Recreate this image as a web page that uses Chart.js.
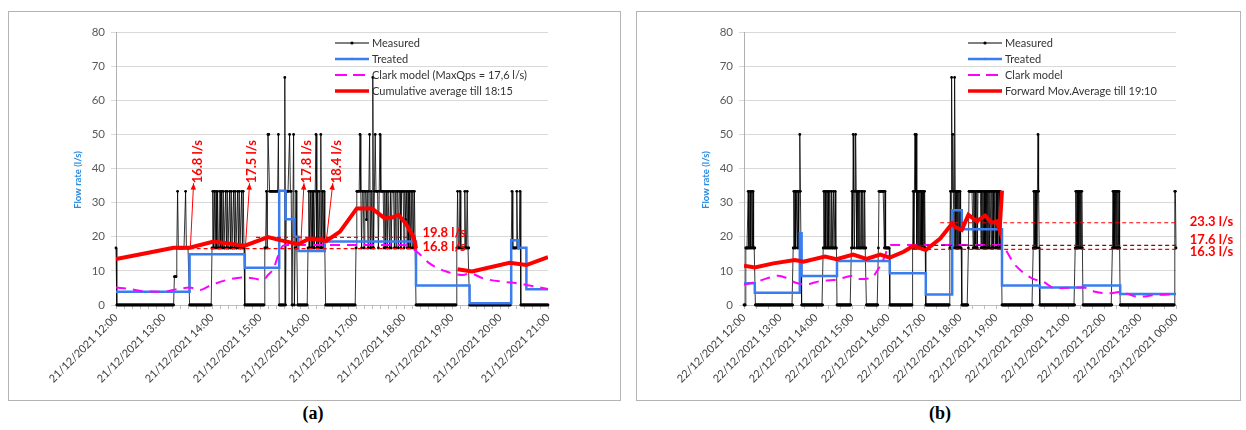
<!DOCTYPE html>
<html>
<head>
<meta charset="utf-8">
<title>Flow rate</title>
<script src="https://cdn.jsdelivr.net/npm/chart.js@4.4.1/dist/chart.umd.min.js"></script>
<style>
  html, body { margin: 0; padding: 0; background: #fff; }
  body { width: 1246px; height: 430px; position: relative; overflow: hidden; }
  .panel { position: absolute; top: 11px; height: 390px; border: 1px solid #b4b4b4; box-sizing: border-box; }
  #panelA { left: 8px; width: 613px; }
  #panelB { left: 636px; width: 605px; }
  canvas { position: absolute; left: 0; top: 0; }
  .caption { position: absolute; top: 403px; width: 60px; margin-left: -30px; text-align: center;
             font: bold 18px "Liberation Serif", serif; color: #000; }
</style>
</head>
<body>
<div class="panel" id="panelA"><canvas id="chartA" width="611" height="388"></canvas></div>
<div class="panel" id="panelB"><canvas id="chartB" width="603" height="388"></canvas></div>
<div class="caption" style="left:313px">(a)</div>
<div class="caption" style="left:940px">(b)</div>

<script>
// ---------- panel (a): 21/12/2021, minutes from 12:00 ----------
const hourLabelsA = ['21/12/2021 12:00', '21/12/2021 13:00', '21/12/2021 14:00', '21/12/2021 15:00',
  '21/12/2021 16:00', '21/12/2021 17:00', '21/12/2021 18:00', '21/12/2021 19:00',
  '21/12/2021 20:00', '21/12/2021 21:00'];

// measured flow, one value per minute (l/s)
const measuredA = [
  // 12:00
  16.7,0,0,0,0,0,0,0,0,0,
  0,0,0,0,0,0,0,0,0,0,
  0,0,0,0,0,0,0,0,0,0,
  0,0,0,0,0,0,0,0,0,0,
  0,0,0,0,0,0,0,0,0,0,
  0,0,0,0,0,0,0,0,0,0,
  // 13:00
  0,0,0,0,0,0,0,0,0,0,
  0,0,0,8.3,8.3,8.3,16.7,33.3,16.7,16.7,
  16.7,16.7,16.7,16.7,16.7,16.7,16.7,33.3,16.7,16.7,
  16.7,16.7,0,0,0,0,0,0,0,0,
  0,0,0,0,0,0,0,0,0,0,
  0,0,0,0,0,0,0,0,0,0,
  // 14:00
  16.7,33.3,16.7,33.3,16.7,33.3,16.7,33.3,16.7,16.7,
  33.3,16.7,33.3,16.7,33.3,16.7,16.7,33.3,16.7,33.3,
  16.7,16.7,33.3,16.7,33.3,16.7,16.7,33.3,16.7,33.3,
  16.7,16.7,33.3,16.7,33.3,16.7,16.7,33.3,16.7,33.3,
  16.7,0,0,0,0,0,0,0,0,0,
  0,0,0,0,0,0,0,0,0,0,
  // 15:00
  0,0,0,0,0,0,16.7,16.7,33.3,16.7,
  50,50,33.3,33.3,33.3,33.3,33.3,33.3,33.3,33.3,
  33.3,33.3,33.3,50,0,0,0,0,0,0,
  0,66.7,0,33.3,33.3,33.3,33.3,50,33.3,33.3,
  0,0,50,0,16.7,33.3,16.7,0,0,0,
  0,0,0,0,0,0,0,0,0,0,
  // 16:00
  16.7,33.3,16.7,33.3,16.7,33.3,16.7,33.3,16.7,33.3,
  50,16.7,33.3,16.7,33.3,16.7,50,16.7,33.3,16.7,
  33.3,16.7,0,0,0,0,0,0,0,0,
  0,0,0,0,0,0,0,0,0,0,
  0,0,0,0,0,0,0,0,0,0,
  0,0,0,0,0,0,0,0,0,0,
  // 17:00
  16.7,33.3,33.3,33.3,33.3,50,33.3,16.7,33.3,33.3,
  16.7,33.3,33.3,25,33.3,16.7,33.3,50,16.7,33.3,
  16.7,66.7,16.7,33.3,50,33.3,33.3,33.3,16.7,33.3,
  50,33.3,33.3,33.3,33.3,16.7,33.3,16.7,33.3,16.7,
  33.3,33.3,16.7,33.3,16.7,33.3,33.3,33.3,16.7,33.3,
  16.7,33.3,33.3,16.7,33.3,33.3,16.7,33.3,33.3,33.3,
  // 18:00
  16.7,33.3,25,33.3,16.7,33.3,16.7,33.3,16.7,33.3,
  16.7,33.3,16.7,33.3,16.7,0,0,0,0,0,
  0,0,0,0,0,0,0,0,0,0,
  0,0,0,0,0,0,0,0,0,0,
  0,0,0,0,0,0,0,0,0,0,
  0,0,0,0,0,0,0,0,0,0,
  // 19:00
  0,0,0,0,0,0,16.7,33.3,16.7,16.7,
  33.3,16.7,16.7,16.7,16.7,16.7,33.3,16.7,16.7,33.3,
  16.7,16.7,0,0,0,0,0,0,0,0,
  0,0,0,0,0,0,0,0,0,0,
  0,0,0,0,0,0,0,0,0,0,
  0,0,0,0,0,0,0,0,0,0,
  // 20:00
  0,0,0,0,0,0,0,0,0,0,
  0,0,0,0,16.7,33.3,16.7,16.7,16.7,16.7,
  16.7,33.3,16.7,16.7,16.7,33.3,0,0,0,0,
  0,0,0,0,0,0,0,0,0,0,
  0,0,0,0,0,0,0,0,0,0,
  0,0,0,0,0,0,0,0,0,0,
  // 21:00
  0
];

// treated flow: value held from each time until the next one
const treatedTimesA = [0, 92, 161, 204, 212, 223, 228, 261, 375, 442, 494, 503, 513, 540];
const treatedA = [3.9, 14.9, 10.9, 33.5, 25.1, 20.0, 15.8, 18.6, 5.7, 0.5, 19.0, 16.8, 4.6, 4.6];

const clarkTimesA = [0, 17, 34, 59, 76, 92, 105, 117, 138, 159, 172, 184, 190, 197, 203, 209, 215,
  360, 376, 392, 413, 434, 442, 459, 484, 501, 517, 540];
const clarkA = [5.1, 4.7, 4.0, 3.9, 4.6, 5.1, 4.4, 5.6, 7.3, 8.1, 7.8, 7.3, 8.8, 10.7, 14.7, 17.4, 17.6,
  17.6, 15.6, 12.2, 9.8, 8.8, 9.3, 7.8, 6.8, 6.4, 5.7, 4.7];

const cumAvgTimesA = [0, 34, 72, 92, 122, 161, 190, 205, 228, 242, 263, 280, 301, 320, 336, 345, 353,
  362, 368, 372, 375, 400, 427, 445, 492, 513, 540];
const cumAvgA = [13.5, 15.0, 16.8, 16.8, 18.6, 17.4, 19.9, 19.0, 17.8, 19.5, 18.8, 21.5, 28.3, 28.3, 25.4,
  25.6, 26.4, 24.0, 21.5, 20.0, 16.6, null, 10.5, 9.8, 12.4, 11.7, 14.0];

const refFromA = [175, 92];
const refToA = [376, 376];
const refValueA = [19.8, 16.5];
const refLabelsA = ['19.8 l/s', '16.8 l/s'];
const refLabelTimesA = [383, 383];
const refLabelValuesA = [21.1, 17.1];

const arrowLabelsA = ['16.8 l/s', '17.5 l/s', '17.8 l/s', '18.4 l/s'];
const arrowTipTimesA = [93, 162, 231, 263];
const arrowTipValuesA = [17.0, 17.8, 17.9, 19.0];
const arrowHeadTimesA = [97, 167, 235, 271];
const arrowTextTimesA = [102, 170, 238, 276];

// ---------- panel (b): 22/12/2021, minutes from 12:00 ----------
const hourLabelsB = ['22/12/2021 12:00', '22/12/2021 13:00', '22/12/2021 14:00', '22/12/2021 15:00',
  '22/12/2021 16:00', '22/12/2021 17:00', '22/12/2021 18:00', '22/12/2021 19:00',
  '22/12/2021 20:00', '22/12/2021 21:00', '22/12/2021 22:00', '22/12/2021 23:00',
  '23/12/2021 00:00'];

const measuredB = [
  // 12:00
  0,0,0,16.7,16.7,16.7,16.7,33.3,16.7,16.7,
  33.3,16.7,16.7,33.3,16.7,33.3,16.7,16.7,16.7,0,
  0,0,0,0,0,0,0,0,0,0,
  0,0,0,0,0,0,0,0,0,0,
  0,0,0,0,0,0,0,0,0,0,
  0,0,0,0,0,0,0,0,0,0,
  // 13:00
  0,0,0,0,0,0,0,0,0,0,
  0,0,0,0,0,0,0,0,0,0,
  0,0,16.7,33.3,16.7,33.3,16.7,33.3,33.3,16.7,
  33.3,16.7,33.3,50,33.3,16.7,0,0,0,0,
  0,0,0,0,0,0,0,0,0,0,
  0,0,0,0,0,0,0,0,0,0,
  // 14:00
  0,0,0,0,0,0,0,0,0,0,
  0,0,16.7,33.3,16.7,33.3,16.7,16.7,33.3,16.7,
  33.3,16.7,16.7,33.3,16.7,16.7,33.3,16.7,16.7,33.3,
  16.7,16.7,33.3,16.7,16.7,0,0,0,0,0,
  0,0,0,0,0,0,0,0,0,0,
  0,0,0,0,0,0,0,0,0,16.7,
  // 15:00
  33.3,16.7,50,33.3,16.7,33.3,50,33.3,16.7,33.3,
  16.7,33.3,16.7,33.3,16.7,16.7,33.3,16.7,33.3,16.7,
  16.7,33.3,16.7,16.7,0,0,0,0,0,0,
  0,0,0,0,0,0,0,0,0,0,
  0,0,0,0,16.7,33.3,33.3,33.3,33.3,33.3,
  33.3,33.3,33.3,33.3,16.7,33.3,16.7,16.7,16.7,16.7,
  // 16:00
  16.7,16.7,16.7,0,0,0,0,0,0,0,
  0,0,0,0,0,0,0,0,0,0,
  0,0,0,0,0,0,0,0,0,0,
  0,0,0,0,0,0,0,0,0,0,
  0,16.7,33.3,16.7,33.3,50,33.3,50,16.7,33.3,
  16.7,33.3,16.7,33.3,16.7,33.3,16.7,33.3,16.7,33.3,
  // 17:00
  16.7,33.3,16.7,0,0,0,0,0,0,0,
  0,0,0,0,0,0,0,0,0,0,
  0,0,0,0,0,0,0,0,0,0,
  0,0,0,0,0,0,0,0,0,0,
  0,0,0,16.7,33.3,16.7,66.7,33.3,50,33.3,
  16.7,66.7,33.3,16.7,33.3,16.7,33.3,16.7,33.3,16.7,
  // 18:00
  33.3,16.7,16.7,0,0,0,0,0,0,0,
  0,0,0,0,16.7,33.3,33.3,33.3,33.3,33.3,
  33.3,33.3,16.7,33.3,16.7,33.3,16.7,16.7,33.3,16.7,
  33.3,33.3,33.3,33.3,33.3,16.7,33.3,16.7,33.3,16.7,
  33.3,16.7,33.3,16.7,33.3,16.7,33.3,16.7,33.3,16.7,
  33.3,33.3,16.7,33.3,16.7,33.3,16.7,33.3,33.3,16.7,
  // 19:00
  33.3,16.7,33.3,16.7,33.3,33.3,16.7,33.3,16.7,16.7,
  0,0,0,0,0,0,0,0,0,0,
  0,0,0,0,0,0,0,0,0,0,
  0,0,0,0,0,0,0,0,0,0,
  0,0,0,0,0,0,0,0,0,0,
  0,0,0,0,0,0,0,0,0,0,
  // 20:00
  0,0,16.7,33.3,16.7,33.3,16.7,33.3,16.7,33.3,
  50,33.3,16.7,0,0,0,0,0,0,0,
  0,0,0,0,0,0,0,0,0,0,
  0,0,0,0,0,0,0,0,0,0,
  0,0,0,0,0,0,0,0,0,0,
  0,0,0,0,0,0,0,0,0,0,
  // 21:00
  0,0,0,0,0,0,0,0,0,0,
  0,0,16.7,33.3,16.7,33.3,16.7,33.3,16.7,33.3,
  16.7,33.3,16.7,33.3,16.7,0,0,0,0,0,
  0,0,0,0,0,0,0,0,0,0,
  0,0,0,0,0,0,0,0,0,0,
  0,0,0,0,0,0,0,0,0,0,
  // 22:00
  0,0,0,0,0,0,0,0,0,0,
  0,0,0,0,16.7,33.3,16.7,33.3,16.7,33.3,
  16.7,33.3,16.7,33.3,16.7,33.3,16.7,0,0,0,
  0,0,0,0,0,0,0,0,0,0,
  0,0,0,0,0,0,0,0,0,0,
  0,0,0,0,0,0,0,0,0,0,
  // 23:00
  0,0,0,0,0,0,0,0,0,0,
  0,0,0,0,0,0,0,0,0,0,
  0,0,0,0,0,0,0,0,0,0,
  0,0,0,0,0,0,0,0,0,0,
  0,0,0,0,0,0,0,0,0,0,
  0,0,0,0,0,0,0,0,33.3,33.3,
  // 00:00
  16.7
];

const treatedTimesB = [0, 18, 93, 96, 155, 243, 303, 347, 363, 430, 493, 565, 627, 720];
const treatedB = [6.4, 3.6, 21.0, 8.5, 12.9, 9.3, 3.1, 27.8, 22.2, 5.7, 5.1, 5.7, 3.2, 3.2];

const clarkTimesB = [0, 21, 38, 57, 71, 85, 104, 127, 149, 166, 179, 193, 213, 221, 232, 241, 246,
  427, 452, 480, 499, 518, 546, 566, 585, 607, 627, 657, 685, 720];
const clarkB = [5.9, 6.8, 7.8, 8.6, 7.9, 6.6, 6.1, 7.0, 7.3, 8.0, 8.5, 7.6, 8.0, 9.8, 13.2, 17.1, 17.6,
  17.6, 11.7, 7.8, 6.8, 4.9, 5.1, 5.1, 3.9, 3.4, 3.8, 2.4, 2.9, 3.1];

const fwdAvgTimesB = [0, 18, 49, 85, 99, 135, 154, 182, 204, 227, 243, 266, 282, 303, 327, 347, 352,
  363, 374, 388, 402, 413, 421, 426, 430];
const fwdAvgB = [11.5, 11.0, 12.2, 13.2, 12.7, 14.2, 13.4, 14.8, 13.5, 14.8, 13.9, 15.6, 17.3, 16.1, 19.5,
  23.9, 22.8, 22.0, 26.4, 24.6, 26.2, 24.1, 24.5, 22.0, 33.5];

const refFromB = [327, 282, 282];
const refToB = [720, 720, 720];
const refValueB = [24.1, 17.5, 16.3];
const refLabelsB = ['23.3 l/s', '17.6 l/s', '16.3 l/s'];
const refLabelTimesB = [743, 743, 743];
const refLabelValuesB = [24.4, 19.0, 15.6];

// ---------- drawing ----------
Chart.defaults.font.family = 'Lato';

const pairs = (xs, ys) => xs.map((x, i) => ({ x: x, y: ys[i] }));
const perMinute = ys => ys.map((y, i) => ({ x: i, y: y }));

const legendStyles = [
  { color: '#000000', width: 1, dot: 1.6 },
  { color: '#3a7df0', width: 2.5, dot: 1.3 },
  { color: '#ff00ff', width: 2, dash: [12, 6] },
  { color: '#ff0000', width: 3.5 }
];

function buildDatasets(p) {
  const sets = [{
    data: pairs(p.avgTimes, p.avg), borderColor: '#ff0000', borderWidth: 4,
    pointRadius: 0, spanGaps: false
  }];
  p.refFrom.forEach((t0, i) => {
    sets.push({
      data: [{ x: t0, y: p.refValue[i] }, { x: p.refTo[i], y: p.refValue[i] }],
      borderColor: p.refColors[i], borderWidth: 1.2, borderDash: [4, 3], pointRadius: 0
    });
  });
  sets.push({
    data: pairs(p.clarkTimes, p.clark), borderColor: '#ff00ff', borderWidth: 2,
    borderDash: [10, 7], pointRadius: 0, cubicInterpolationMode: 'monotone'
  });
  sets.push({
    data: pairs(p.treatedTimes, p.treated), borderColor: '#3a7df0', borderWidth: 2.5,
    stepped: true, pointRadius: 0
  });
  sets.push({
    data: perMinute(p.measured), borderColor: '#000000', borderWidth: 0.8,
    pointRadius: 1.4, pointBorderWidth: 0, pointBackgroundColor: '#000000',
    clip: { left: 2, top: 2, right: 2, bottom: 3 }
  });
  return sets;
}

function makeExtras(p) {
  return {
    id: 'extras',
    afterDraw(chart) {
      const { ctx, chartArea: area } = chart;
      const x = chart.scales.x, y = chart.scales.y;
      ctx.save();

      // axis title
      ctx.save();
      ctx.translate(area.left - 38, area.top + 148);
      ctx.rotate(-Math.PI / 2);
      ctx.font = 'bold 9.5px Lato';
      ctx.fillStyle = '#2b8be0';
      ctx.textAlign = 'center';
      ctx.textBaseline = 'middle';
      ctx.fillText('Flow rate (l/s)', 0, 0);
      ctx.restore();

      // legend
      const lx = area.left + p.legendLeft;
      ctx.font = '11px Lato';
      ctx.textAlign = 'left';
      ctx.textBaseline = 'middle';
      p.legendNames.forEach((name, i) => {
        const ly = area.top + 11 + i * 16;
        const s = legendStyles[i];
        ctx.beginPath();
        ctx.setLineDash(s.dash || []);
        ctx.strokeStyle = s.color;
        ctx.lineWidth = s.width;
        ctx.moveTo(lx, ly);
        ctx.lineTo(lx + 34, ly);
        ctx.stroke();
        ctx.setLineDash([]);
        if (s.dot) {
          ctx.beginPath();
          ctx.fillStyle = s.color;
          ctx.arc(lx + 17, ly, s.dot, 0, 2 * Math.PI);
          ctx.fill();
        }
        ctx.fillStyle = '#333333';
        ctx.fillText(name, lx + 37, ly);
      });

      // arrows with rotated values
      ctx.fillStyle = '#ff0000';
      ctx.strokeStyle = '#ff0000';
      ctx.lineWidth = 1;
      p.arrowLabels.forEach((label, i) => {
        const tx = x.getPixelForValue(p.arrowTipTimes[i]);
        const ty = y.getPixelForValue(p.arrowTipValues[i]);
        const hx = x.getPixelForValue(p.arrowHeadTimes[i]);
        const hy = y.getPixelForValue(35.7);
        ctx.beginPath();
        ctx.moveTo(tx, ty);
        ctx.lineTo(hx, hy);
        ctx.stroke();
        const ang = Math.atan2(hy - ty, hx - tx);
        ctx.beginPath();
        ctx.moveTo(hx, hy);
        ctx.lineTo(hx - 7 * Math.cos(ang - 0.4), hy - 7 * Math.sin(ang - 0.4));
        ctx.lineTo(hx - 7 * Math.cos(ang + 0.4), hy - 7 * Math.sin(ang + 0.4));
        ctx.closePath();
        ctx.fill();
        ctx.save();
        ctx.translate(x.getPixelForValue(p.arrowTextTimes[i]), y.getPixelForValue(42));
        ctx.rotate(-Math.PI / 2);
        ctx.font = 'bold 13px Lato';
        ctx.textAlign = 'center';
        ctx.textBaseline = 'middle';
        ctx.fillText(label, 0, 0);
        ctx.restore();
      });

      // labels of the reference lines
      ctx.font = 'bold 13px Lato';
      ctx.textAlign = 'left';
      ctx.textBaseline = 'middle';
      ctx.fillStyle = '#ff0000';
      p.refLabels.forEach((label, i) => {
        ctx.fillText(label, x.getPixelForValue(p.refLabelTimes[i]), y.getPixelForValue(p.refLabelValues[i]));
      });
      ctx.restore();
    }
  };
}

function makeChart(id, p) {
  return new Chart(document.getElementById(id), {
    type: 'line',
    data: { datasets: buildDatasets(p) },
    options: {
      responsive: false,
      animation: false,
      devicePixelRatio: 1,
      layout: { padding: { top: 20, right: p.padRight, bottom: 0, left: 0 } },
      plugins: { legend: { display: false }, tooltip: { enabled: false } },
      elements: { line: { tension: 0 } },
      scales: {
        x: {
          type: 'linear', min: 0, max: p.end,
          afterFit: s => { s.height = 95; },
          grid: { drawOnChartArea: false, drawTicks: true, tickLength: 4, color: '#bfbfbf' },
          border: { color: '#bfbfbf' },
          ticks: {
            stepSize: p.minorStep, autoSkip: false, minRotation: 45, maxRotation: 45, padding: 2,
            color: '#404040', font: { family: 'Lato', size: 11 },
            callback: v => (v % 60 === 0 ? p.hourLabels[v / 60] : '')
          }
        },
        y: {
          min: 0, max: 80,
          afterFit: s => { s.width = 107; },
          grid: { color: '#d9d9d9', tickLength: 5 },
          border: { color: '#b0b0b0' },
          ticks: { stepSize: 10, padding: 6, color: '#595959', font: { family: 'Lato', size: 11.5 } }
        }
      }
    },
    plugins: [makeExtras(p)]
  });
}

makeChart('chartA', {
  end: 540, minorStep: 10, padRight: 72, legendLeft: 219, hourLabels: hourLabelsA,
  measured: measuredA,
  treatedTimes: treatedTimesA, treated: treatedA,
  clarkTimes: clarkTimesA, clark: clarkA,
  avgTimes: cumAvgTimesA, avg: cumAvgA,
  refFrom: refFromA, refTo: refToA, refValue: refValueA, refColors: ['#ff0000', '#ff0000'],
  refLabels: refLabelsA, refLabelTimes: refLabelTimesA, refLabelValues: refLabelValuesA,
  arrowLabels: arrowLabelsA, arrowTipTimes: arrowTipTimesA, arrowTipValues: arrowTipValuesA,
  arrowHeadTimes: arrowHeadTimesA, arrowTextTimes: arrowTextTimesA,
  legendNames: ['Measured', 'Treated', 'Clark model (MaxQps = 17,6 l/s)', 'Cumulative average till 18:15']
});

makeChart('chartB', {
  end: 720, minorStep: 20, padRight: 64, legendLeft: 224, hourLabels: hourLabelsB,
  measured: measuredB,
  treatedTimes: treatedTimesB, treated: treatedB,
  clarkTimes: clarkTimesB, clark: clarkB,
  avgTimes: fwdAvgTimesB, avg: fwdAvgB,
  refFrom: refFromB, refTo: refToB, refValue: refValueB, refColors: ['#ff0000', '#5a1f1f', '#ff0000'],
  refLabels: refLabelsB, refLabelTimes: refLabelTimesB, refLabelValues: refLabelValuesB,
  arrowLabels: [], arrowTipTimes: [], arrowTipValues: [], arrowHeadTimes: [], arrowTextTimes: [],
  legendNames: ['Measured', 'Treated', 'Clark model', 'Forward Mov.Average till 19:10']
});
</script>
</body>
</html>
